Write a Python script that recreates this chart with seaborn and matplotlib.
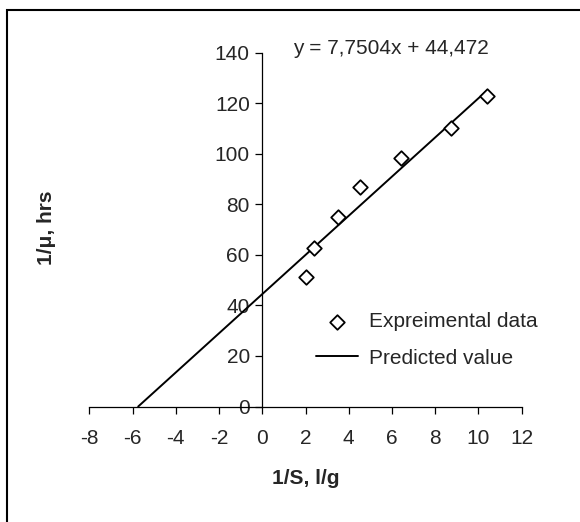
#!/usr/bin/env python3
# -*- coding: utf8 -*-

import numpy as np
import pandas as pd
import seaborn as sns
import matplotlib.pyplot as plt
from matplotlib.patches import Rectangle

inv_s = [2.04, 2.38, 3.50, 4.50, 6.43, 8.72, 10.40]
inv_mu = [51.2, 62.7, 74.9, 86.7, 98.5, 110.1, 123.0]

# fitted line
slope = 7.7504
intercept = 44.472
equation = 'y = 7,7504x + 44,472'

x_ticks = [-8, -6, -4, -2, 0, 2, 4, 6, 8, 10, 12]
y_ticks = [0, 20, 40, 60, 80, 100, 120, 140]


def plot(output='out.png'):
    df = pd.DataFrame({'x': inv_s, 'y': inv_mu})
    line_x = np.array([-intercept / slope, max(inv_s)])
    fit = pd.DataFrame({'x': line_x, 'y': slope * line_x + intercept})

    sns.set_style('white')
    plt.rcParams['font.family'] = ['Liberation Sans', 'DejaVu Sans']
    plt.rcParams['font.size'] = 15
    plt.rcParams['axes.unicode_minus'] = False

    fig = plt.figure(figsize=(5.8, 5.22), dpi=100)
    ax = fig.add_axes([89.3 / 580, 1 - 406.5 / 522, 432.4 / 580, 353.8 / 522])

    sns.scatterplot(data=df, x='x', y='y', ax=ax, marker='D', s=55,
                    facecolor='white', edgecolor='black', linewidth=1.3,
                    label='Expreimental data', zorder=3)
    sns.lineplot(data=fit, x='x', y='y', ax=ax, color='black', linewidth=1.4,
                 label='Predicted value')

    ax.set_xlim(-8, 12)
    ax.set_ylim(0, 140)
    ax.set_xticks(x_ticks)
    ax.set_yticks(y_ticks)

    for side in ['top', 'right']:
        ax.spines[side].set_visible(False)
    ax.spines['left'].set_position(('data', 0))
    for side in ['left', 'bottom']:
        ax.spines[side].set_color('black')
        ax.spines[side].set_linewidth(0.9)
    ax.tick_params(axis='both', direction='out', length=5, width=0.9,
                   color='black', labelsize=15)
    ax.tick_params(axis='x', pad=11, bottom=True)
    ax.tick_params(axis='y', pad=4, left=True)

    ax.set_xlabel('')
    ax.set_ylabel('')
    fig.text(306 / 580, 1 - 478 / 522, '1/S, l/g', fontsize=15,
             fontweight='bold', ha='center', va='center')
    fig.text(47 / 580, 1 - 228 / 522, '1/\u03bc, hrs', fontsize=15,
             fontweight='bold', ha='center', va='center', rotation=90)

    ax.text(1.41, 141.5, equation, fontsize=15, ha='left', va='center',
            clip_on=False)

    ax.legend(loc='upper left', frameon=False, fontsize=15,
              bbox_to_anchor=(316 / 580, 1 - 312 / 522),
              bbox_transform=fig.transFigure, borderpad=0, borderaxespad=0,
              handlelength=2.0, handletextpad=0.55, labelspacing=0.85)

    fig.patches.append(Rectangle((7 / 580, -0.1), 1.1, 1 - 10 / 522 + 0.1,
                                 transform=fig.transFigure, fill=False,
                                 lw=1.5, ec='black'))

    fig.savefig(output, dpi=100)


if __name__ == '__main__':
    plot()
